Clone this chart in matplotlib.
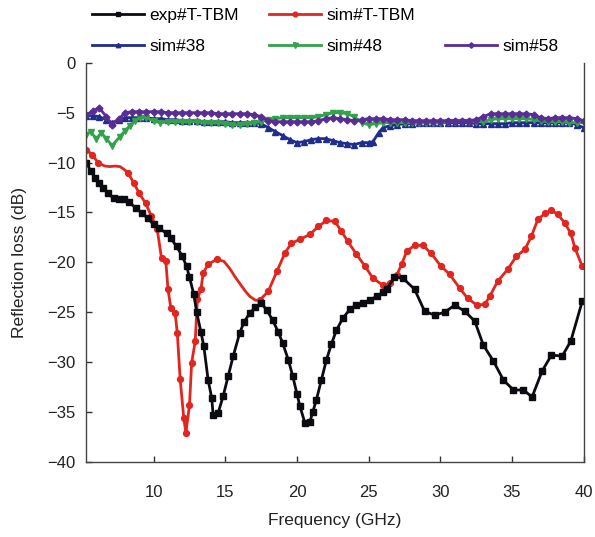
import numpy as np
import matplotlib
matplotlib.use("Agg")
import matplotlib.pyplot as plt
from matplotlib.lines import Line2D

plt.rcParams['font.family'] = ['Liberation Sans', 'DejaVu Sans']

# exp#T-TBM
exp_f = [5.3, 5.6, 5.9, 6.2, 6.5, 6.8, 7.2, 7.6, 7.9, 8.3, 8.8, 9.2, 9.6, 10.0, 10.4, 10.9, 11.2, 11.6,
         12.0, 12.3, 12.5, 12.8, 13.0, 13.3, 13.5, 13.8, 14.05, 14.15, 14.5, 14.85, 15.2, 15.55, 16.0,
         16.3, 16.7, 17.1, 17.5, 17.9, 18.3, 18.7, 19.0, 19.4, 19.7, 20.0, 20.2, 20.55, 20.9, 21.1,
         21.35, 21.7, 22.05, 22.4, 22.75, 23.2, 23.7, 24.1, 24.6, 25.1, 25.55, 26.0, 26.25, 26.8, 27.4,
         28.2, 28.9, 29.6, 30.3, 31.0, 31.7, 32.4, 33.0, 33.7, 34.4, 35.1, 35.8, 36.4, 37.1, 37.75,
         38.5, 39.1, 39.9]
exp_v = [-10.0, -10.8, -11.5, -12.0, -12.5, -13.0, -13.6, -13.7, -13.7, -14.0, -14.6, -15.1, -15.6,
         -16.2, -16.6, -17.1, -17.6, -18.4, -19.4, -20.4, -21.5, -23.2, -25.0, -27.0, -28.4, -31.8,
         -33.6, -35.3, -35.1, -33.4, -31.4, -29.4, -27.1, -26.0, -25.1, -24.5, -24.1, -24.8, -25.8,
         -27.0, -28.1, -29.8, -31.4, -33.2, -34.4, -36.1, -36.0, -35.0, -33.8, -31.8, -29.8, -28.2,
         -26.8, -25.6, -24.7, -24.3, -24.1, -23.8, -23.4, -23.0, -22.7, -21.5, -21.6, -22.7, -24.9,
         -25.3, -25.0, -24.3, -24.9, -25.9, -28.3, -29.9, -31.8, -32.8, -32.8, -33.5, -30.9, -29.3,
         -29.4, -27.9, -23.9]

# sim#T-TBM
sim_f = [5.3, 5.7, 6.15, 6.6, 6.95, 7.3, 7.65, 7.95, 8.2, 8.6, 9.0, 9.45, 9.85, 10.25, 10.55, 10.85,
         11.0, 11.2, 11.5, 11.65, 11.85, 12.1, 12.25, 12.5, 12.65, 12.9, 13.05, 13.3, 13.45, 13.8,
         14.4, 14.9, 15.3, 15.7, 16.0, 16.4, 16.7, 17.1, 17.4, 18.0, 18.6, 19.15, 19.6, 20.2, 20.9,
         21.5, 22.05, 22.65, 23.1, 23.55, 24.15, 24.75, 25.3, 26.0, 26.5, 26.95, 27.3, 27.65, 28.2,
         28.8, 29.35, 30.05, 30.65, 31.35, 31.9, 32.55, 33.1, 33.45, 34.0, 34.7, 35.3, 35.9, 36.35,
         36.8, 37.3, 37.75, 38.2, 38.7, 39.1, 39.4, 39.9]
sim_v = [-8.7, -9.2, -10.05, -10.35, -10.4, -10.35, -10.4, -10.7, -11.0, -12.0, -13.1, -14.1, -15.4,
         -16.7, -19.6, -19.9, -22.7, -24.6, -25.1, -27.1, -31.7, -35.6, -37.1, -34.3, -30.1, -27.9,
         -23.7, -22.7, -21.1, -20.2, -19.7, -19.9, -20.6, -21.5, -22.1, -22.9, -23.4, -23.8, -23.8,
         -22.9, -20.9, -19.1, -18.1, -17.7, -17.2, -16.4, -15.8, -15.9, -16.9, -17.9, -19.2, -20.4,
         -21.6, -22.3, -22.1, -21.3, -20.2, -18.9, -18.3, -18.3, -19.1, -20.4, -21.2, -22.6, -23.6,
         -24.3, -24.2, -23.4, -21.9, -20.7, -19.4, -18.7, -17.4, -15.7, -15.1, -14.8, -15.2, -16.1,
         -17.1, -18.6, -20.4]

# sim#38
s38_f = [5.3, 5.8, 6.2, 6.7, 7.1, 7.6, 8.0, 8.5, 9.0, 9.5, 10.0, 10.5, 11.0, 11.5, 12.0, 12.5, 13.0,
         13.5, 14.0, 14.5, 15.0, 15.5, 16.0, 16.5, 17.0, 17.5, 18.0, 18.5, 19.0, 19.5, 20.0, 20.5,
         21.0, 21.5, 22.0, 22.5, 23.0, 23.5, 24.0, 24.5, 25.0, 25.3, 25.7, 26.0, 26.5, 27.0, 27.5,
         28.0, 28.5, 29.0, 29.5, 30.0, 30.5, 31.0, 31.5, 32.0, 32.5, 33.0, 33.5, 34.0, 34.5, 35.0,
         35.5, 36.0, 36.5, 37.0, 37.5, 38.0, 38.5, 39.0, 39.5, 40.0]
s38_v = [-5.3, -5.3, -5.4, -5.7, -6.0, -5.7, -5.5, -5.5, -5.5, -5.5, -5.6, -5.6, -5.7, -5.7, -5.8,
         -5.8, -5.8, -5.9, -5.9, -5.9, -5.9, -6.0, -6.0, -6.0, -6.0, -6.1, -6.5, -6.9, -7.3, -7.7,
         -8.0, -7.9, -7.7, -7.6, -7.6, -7.8, -8.0, -8.1, -8.2, -8.0, -8.0, -7.9, -7.0, -6.5, -6.3,
         -6.2, -6.1, -6.1, -6.0, -6.0, -6.0, -6.0, -6.0, -6.0, -6.0, -6.0, -6.1, -6.1, -6.1, -6.1,
         -6.1, -6.0, -6.0, -6.0, -6.0, -6.0, -6.0, -6.0, -6.0, -6.0, -6.2, -6.5]

# sim#48
s48_f = [5.3, 5.6, 6.0, 6.35, 6.7, 7.1, 7.65, 8.0, 8.35, 8.7, 9.05, 9.5, 10.0, 10.45, 11.0, 11.5,
         12.0, 12.5, 13.0, 13.5, 14.0, 14.5, 15.0, 15.5, 16.0, 16.5, 17.0, 17.5, 18.0, 18.5, 19.0,
         19.5, 20.0, 20.5, 21.0, 21.5, 22.0, 22.5, 23.0, 23.5, 24.0, 24.5, 25.0, 25.5, 26.0, 26.5,
         27.0, 27.5, 28.0, 28.5, 29.0, 29.5, 30.0, 30.5, 31.0, 31.5, 32.0, 32.5, 33.0, 33.5, 34.0,
         34.5, 35.0, 35.5, 36.0, 36.5, 37.0, 37.5, 38.0, 38.5, 39.0, 39.5, 40.0]
s48_v = [-7.2, -6.9, -7.6, -7.0, -7.6, -8.3, -7.4, -6.8, -6.3, -5.8, -5.5, -5.5, -5.8, -6.0, -5.9,
         -5.9, -5.9, -5.9, -5.9, -6.0, -6.0, -6.0, -6.1, -6.2, -6.2, -6.1, -6.0, -5.9, -5.7, -5.6,
         -5.5, -5.5, -5.5, -5.5, -5.5, -5.4, -5.2, -5.0, -5.0, -5.1, -5.4, -6.0, -6.2, -6.1, -6.0,
         -6.0, -6.0, -6.0, -6.0, -6.0, -6.0, -6.0, -6.0, -5.9, -5.9, -5.9, -5.9, -5.9, -5.9, -5.7,
         -5.6, -5.6, -5.6, -5.6, -5.6, -5.7, -5.8, -5.9, -5.9, -5.9, -6.0, -6.0, -6.0]

# sim#58
s58_f = [5.3, 5.8, 6.2, 6.7, 7.1, 7.6, 8.0, 8.5, 9.0, 9.5, 10.0, 10.5, 11.0, 11.5, 12.0, 12.5, 13.0,
         13.5, 14.0, 14.5, 15.0, 15.5, 16.0, 16.5, 17.0, 17.5, 18.0, 18.5, 19.0, 19.5, 20.0, 20.5,
         21.0, 21.5, 22.0, 22.5, 23.0, 23.5, 24.0, 24.5, 25.0, 25.5, 26.0, 26.5, 27.0, 27.5, 28.0,
         28.5, 29.0, 29.5, 30.0, 30.5, 31.0, 31.5, 32.0, 32.5, 33.0, 33.5, 34.0, 34.5, 35.0, 35.5,
         36.0, 36.5, 37.0, 37.5, 38.0, 38.5, 39.0, 39.5, 40.0]
s58_v = [-5.2, -4.8, -4.5, -5.4, -6.2, -5.6, -5.0, -4.9, -4.9, -4.9, -4.9, -4.9, -5.0, -5.0, -5.0,
         -5.0, -5.0, -5.0, -5.0, -5.1, -5.1, -5.1, -5.1, -5.1, -5.2, -5.4, -5.8, -5.9, -5.9, -5.9,
         -5.9, -5.9, -5.9, -5.8, -5.6, -5.5, -5.6, -5.7, -5.8, -5.7, -5.6, -5.6, -5.6, -5.7, -5.7,
         -5.7, -5.8, -5.8, -5.8, -5.8, -5.8, -5.8, -5.8, -5.8, -5.8, -5.7, -5.4, -5.1, -5.1, -5.1,
         -5.1, -5.1, -5.1, -5.2, -5.5, -5.6, -5.5, -5.5, -5.5, -5.6, -5.8]

x_ticks = [10, 15, 20, 25, 30, 35, 40]
y_ticks = [0, -5, -10, -15, -20, -25, -30, -35, -40]

fig = plt.figure(figsize=(5.95, 5.37), dpi=100)
ax = fig.add_axes([0.145, 0.14, 0.836, 0.743])

c_exp = '#0b0b12'
c_sim = '#e0261f'
c_38 = '#1f2d8c'
c_48 = '#33a24a'
c_58 = '#5a2d96'

lw = 2.0
h38, = ax.plot(s38_f, s38_v, color=c_38, lw=lw, marker='^', ms=4, label='sim#38')
h48, = ax.plot(s48_f, s48_v, color=c_48, lw=lw, marker='v', ms=4.5, label='sim#48')
h58, = ax.plot(s58_f, s58_v, color=c_58, lw=lw, marker='D', ms=3.5, label='sim#58')

sim_arr = np.array(sim_f)
mk = [i for i, f in enumerate(sim_arr) if not (6.4 < f < 8.1 or 14.5 < f < 17.3)]
hsim, = ax.plot(sim_f, sim_v, color=c_sim, lw=lw, marker='o', ms=4.2, markevery=mk, label='sim#T-TBM')
hexp, = ax.plot(exp_f, exp_v, color=c_exp, lw=lw, marker='s', ms=4, label='exp#T-TBM')

ax.set_xlim(5.3, 40)
ax.set_ylim(-40, 0)
ax.set_xticks(x_ticks)
ax.set_yticks(y_ticks)
ax.tick_params(direction='in', labelsize=12, length=4, width=1, colors='#333333', labelcolor='#222222')
ax.tick_params(axis='x', pad=17)
ax.tick_params(axis='y', pad=8)
ax.spines['top'].set_visible(False)
for s in ['left', 'right', 'bottom']:
    ax.spines[s].set_color('#444444')
    ax.spines[s].set_linewidth(1.0)
ax.set_xlabel('Frequency (GHz)', fontsize=12.5, color='#222222', labelpad=9)
ax.set_ylabel('Reflection loss (dB)', fontsize=12.5, color='#222222', labelpad=14)

blank = Line2D([], [], color='none')
handles = [hexp, h38, hsim, h48, blank, h58]
labels = ['exp#T-TBM', 'sim#38', 'sim#T-TBM', 'sim#48', '', 'sim#58']
fig.legend(handles, labels, ncol=3, loc='upper left', bbox_to_anchor=(0.128, 1.015),
           frameon=False, fontsize=12.5, handlelength=3.0, columnspacing=1.75,
           handletextpad=0.3, labelspacing=0.95, markerscale=0.8)

fig.savefig('out.png', dpi=100)
